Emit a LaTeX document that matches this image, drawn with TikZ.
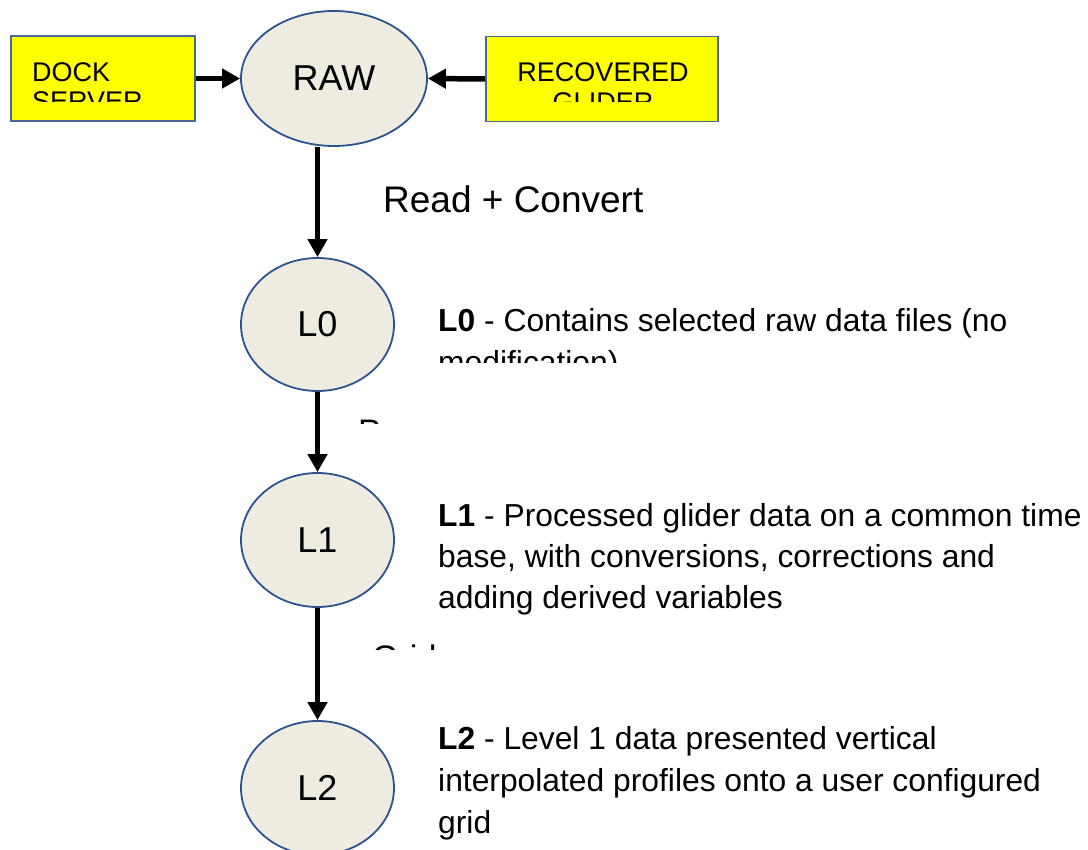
\documentclass[tikz,border=0pt]{standalone}
\usepackage{fontspec}
\setmainfont{Liberation Sans}
\usetikzlibrary{shapes.geometric,arrows.meta}
\definecolor{boxyellow}{HTML}{FFFF00}
\definecolor{boxedge}{HTML}{4A6894}
\definecolor{ellfill}{HTML}{EEEBE1}
\definecolor{elledge}{HTML}{2A5490}
\tikzset{
  srcbox/.style={draw=boxedge,line width=1.8pt,fill=boxyellow,minimum width=184pt,minimum height=85pt,inner sep=0pt},
  level/.style={ellipse,draw=elledge,line width=1.8pt,fill=ellfill,minimum width=153pt,minimum height=134pt,inner sep=0pt,font=\fontsize{36}{43}\selectfont},
  flow/.style={line width=5.5pt,-{Triangle[length=18pt,width=19pt]}},
  desc/.style={anchor=base west,inner sep=0pt,font=\fontsize{31.8}{41}\selectfont},
  boxtxt/.style={inner sep=0pt,font=\fontsize{27}{30}\selectfont},
  steplabel/.style={anchor=base west,inner sep=0pt,font=\fontsize{37}{44}\selectfont},
  cutlabel/.style={anchor=base west,inner sep=0pt,font=\fontsize{34}{40}\selectfont}
}
\begin{document}
\begin{tikzpicture}[x=1pt,y=-1pt]
\useasboundingbox (0,0) rectangle (1088,850);
\clip (0,0) rectangle (1088,850);
% source boxes
\node[srcbox] (dock) at (103,78.5) {};
\node[srcbox,minimum width=232pt] (rec) at (602,79) {};
\begin{scope}
\clip (11,36) rectangle (195,102);
\node[boxtxt,anchor=base west] (dockA) at (32,82) {DOCK};
\node[boxtxt,anchor=base west] (dockB) at (32,111) {SERVER};
\end{scope}
\begin{scope}
\clip (486,36) rectangle (718,102);
\node[boxtxt,anchor=base] (recA) at (603,82) {RECOVERED};
\node[boxtxt,anchor=base] (recB) at (603,112) {GLIDER};
\end{scope}
% level ellipses
\node[level,minimum width=186pt,minimum height=135pt] (raw) at (334,78.5) {RAW};
\node[level,minimum height=133pt] (l0) at (317.5,324.5) {L0};
\node[level] (l1) at (317.5,540) {L1};
\node[level] (l2) at (317.5,788) {L2};
% connectors
\draw[flow] (dock.east) -- (raw.west);
\draw[flow] (rec.west) -- (raw.east);
\draw[flow] (raw.south -| l0.north) -- (l0.north);
\draw[flow] (l0.south) -- (l1.north);
\draw[flow] (l1.south) -- (l2.north);
% step labels
\node[steplabel] (readconv) at (383,213) {Read + Convert};
\begin{scope}
\clip (340,400) rectangle (700,424);
\node[cutlabel] (proc) at (358,444) {Process};
\end{scope}
\begin{scope}
\clip (340,620) rectangle (700,649);
\node[cutlabel] (grid) at (372,669) {Grid};
\end{scope}
% descriptions
\node[desc] (d0a) at (438,332) {\textbf{L0} - Contains selected raw data files (no};
\begin{scope}
\clip (420,340) rectangle (1088,363);
\node[desc] (d0b) at (438,374) {modification)};
\end{scope}
\node[desc] (d1a) at (438,526) {\textbf{L1} - Processed glider data on a common time};
\node[desc] (d1b) at (438,567) {base, with conversions, corrections and};
\node[desc] (d1c) at (438,608) {adding derived variables};
\node[desc] (d2a) at (438,749) {\textbf{L2} - Level 1 data presented vertical};
\node[desc] (d2b) at (438,791) {interpolated profiles onto a user configured};
\node[desc] (d2c) at (438,833) {grid};
\end{tikzpicture}
\end{document}
